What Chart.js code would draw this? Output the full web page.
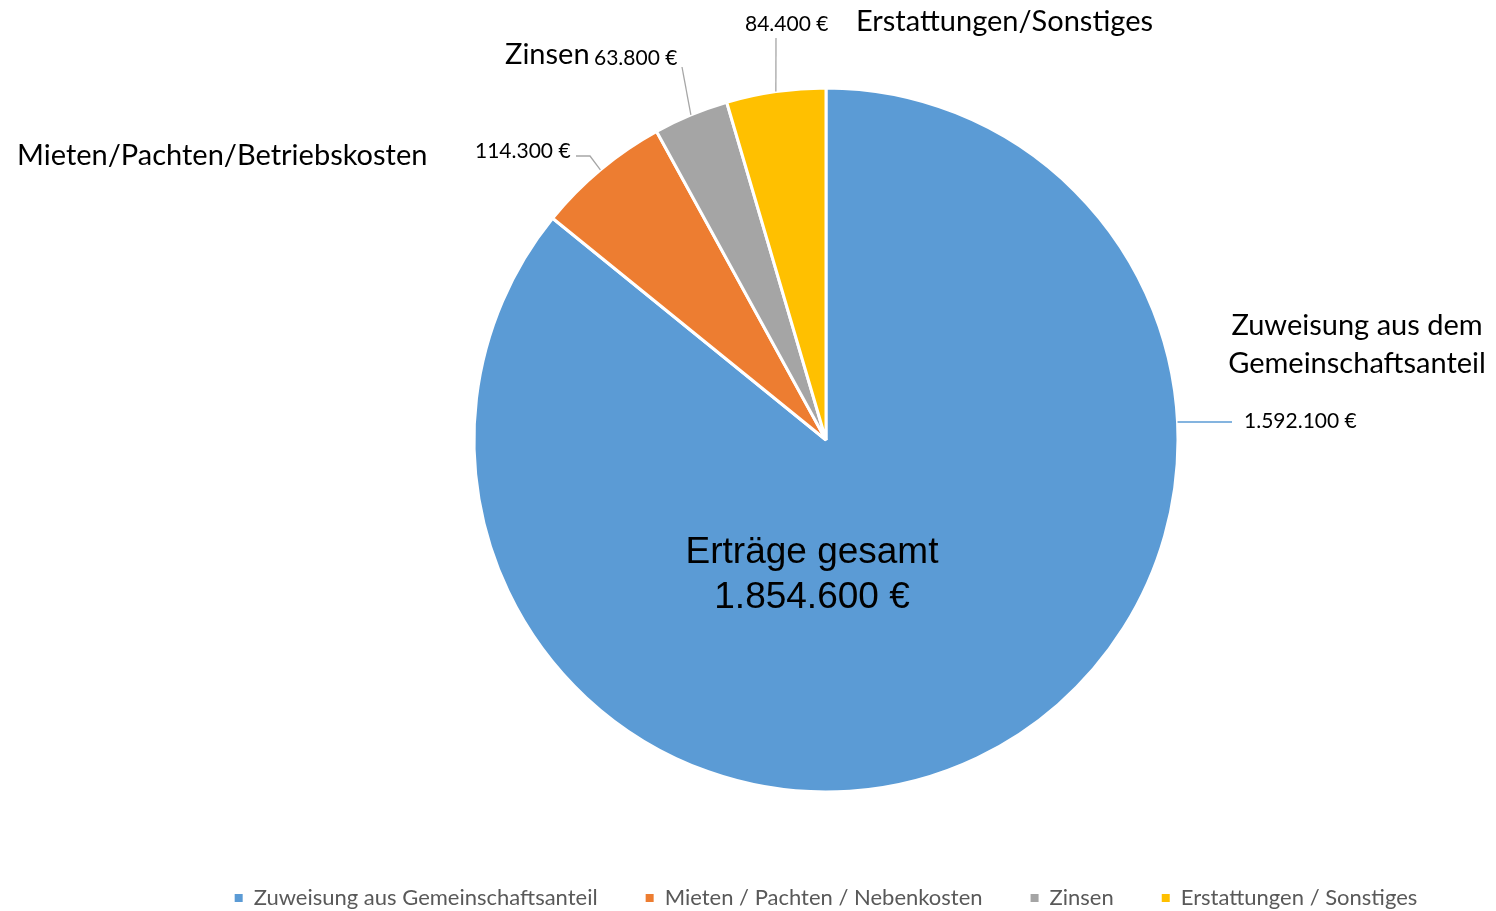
<!DOCTYPE html>
<html>
<head>
<meta charset="utf-8">
<script src="https://cdn.jsdelivr.net/npm/chart.js@4.4.1/dist/chart.umd.min.js"></script>
<style>
  html, body { margin: 0; padding: 0; background: #fff; overflow: hidden; }
  #wrap { position: relative; width: 1496px; height: 919px; }
</style>
</head>
<body>
<div id="wrap"><canvas id="pieChart"></canvas></div>
<script>
// Data
const categories = [
    'Zuweisung aus Gemeinschaftsanteil',
    'Mieten / Pachten / Nebenkosten',
    'Zinsen',
    'Erstattungen / Sonstiges'
];
const values = [1592100, 114300, 63800, 84400];
const sliceLabels = [
    ['Zuweisung aus dem', 'Gemeinschaftsanteil'],
    ['Mieten/Pachten/Betriebskosten'],
    ['Zinsen'],
    ['Erstattungen/Sonstiges']
];
const centerTitle = 'Erträge gesamt';

// Theme Colors
const COLORS = {
    slices: ['#5B9BD5', '#ED7D31', '#A5A5A5', '#FFC000'],
    text: '#000000',
    legend: '#595959',
    leader: '#A6A6A6'
};

const FONT = "Lato, 'Open Sans', sans-serif";

function formatEuro(num) {
    return num.toString().replace(/\B(?=(\d{3})+(?!\d))/g, '.') + ' €';
}

// label placement (text anchors + leader line start), by slice index
const labelLayout = [
    { name: { x: 1357, y: 326, align: 'center', dy: 38 }, value: { x: 1244, y: 421 }, leader: [[1232, 422]], anchorY: 422 },
    { name: { x: 17, y: 156 }, value: { x: 475, y: 151 }, leader: [[576, 156], [590, 156]] },
    { name: { x: 505, y: 55 }, value: { x: 594, y: 58 }, leader: [[682, 67]] },
    { name: { x: 856, y: 22 }, value: { x: 745, y: 24 }, leader: [[776, 38]] }
];

const labelsPlugin = {
    id: 'sliceLabels',
    afterDatasetsDraw(chart) {
        const ctx = chart.ctx;
        const meta = chart.getDatasetMeta(0);
        ctx.save();
        meta.data.forEach((arc, i) => {
            const lay = labelLayout[i];
            const r = arc.outerRadius;
            let ax, ay;
            if (lay.anchorY !== undefined) {
                ay = lay.anchorY;
                ax = arc.x + Math.sqrt(r * r - (ay - arc.y) * (ay - arc.y));
            } else {
                const mid = (arc.startAngle + arc.endAngle) / 2;
                ax = arc.x + r * Math.cos(mid);
                ay = arc.y + r * Math.sin(mid);
            }
            // leader line
            ctx.beginPath();
            ctx.strokeStyle = i === 0 ? COLORS.slices[0] : COLORS.leader;
            ctx.lineWidth = 1.3;
            lay.leader.forEach((p, k) => k === 0 ? ctx.moveTo(p[0], p[1]) : ctx.lineTo(p[0], p[1]));
            ctx.lineTo(ax, ay);
            ctx.stroke();

            ctx.fillStyle = COLORS.text;
            ctx.textBaseline = 'middle';
            // category name
            ctx.font = '29px ' + FONT;
            ctx.textAlign = lay.name.align || 'left';
            sliceLabels[i].forEach((line, k) => {
                ctx.fillText(line, lay.name.x, lay.name.y + k * (lay.name.dy || 0));
            });
            // value
            ctx.font = '21px ' + FONT;
            ctx.textAlign = 'left';
            ctx.fillText(formatEuro(values[i]), lay.value.x, lay.value.y);
        });

        // total in the middle
        const total = values.reduce((a, b) => a + b, 0);
        ctx.font = "37px 'Liberation Sans', Arial, sans-serif";
        ctx.textAlign = 'center';
        ctx.fillStyle = COLORS.text;
        ctx.fillText(centerTitle, 812, 553);
        ctx.fillText(formatEuro(total), 812, 598);
        ctx.restore();
    }
};

const ctx = document.getElementById('pieChart').getContext('2d');

new Chart(ctx, {
    type: 'pie',
    data: {
        labels: categories,
        datasets: [{
            data: values,
            backgroundColor: COLORS.slices,
            borderColor: '#ffffff',
            borderWidth: 3,
            radius: 352
        }]
    },
    options: {
        responsive: true,
        maintainAspectRatio: false,
        animation: false,
        events: [],
        layout: { padding: { left: 156, right: 0, top: 41, bottom: 0 } },
        plugins: {
            tooltip: { enabled: false },
            legend: {
                position: 'bottom',
                labels: {
                    color: COLORS.legend,
                    font: { family: FONT, size: 22 },
                    boxWidth: 8,
                    boxHeight: 8,
                    padding: 48,
                    generateLabels: (chart) => Chart.overrides.pie.plugins.legend.labels
                        .generateLabels(chart).map(l => ({ ...l, lineWidth: 0 }))
                }
            }
        }
    },
    plugins: [labelsPlugin]
});
</script>
</body>
</html>
